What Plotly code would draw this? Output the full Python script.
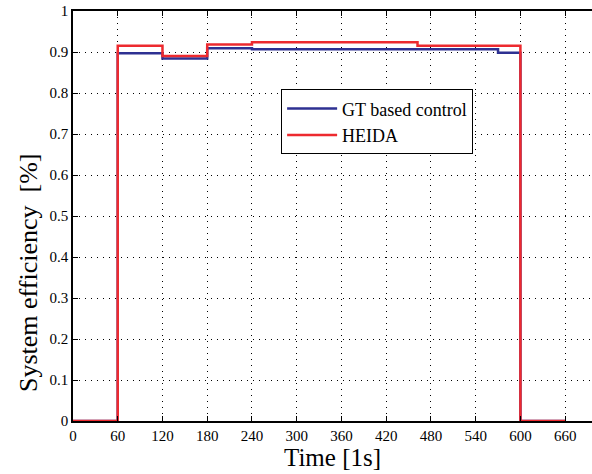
import plotly.graph_objects as go

# Data
t_gt = [0, 60, 120, 180, 240, 570, 600, 660]
eff_gt = [0, 0.897, 0.884, 0.909, 0.907, 0.898, 0, 0]
t_heida = [0, 60, 120, 180, 240, 462, 600, 660]
eff_heida = [0, 0.915, 0.890, 0.918, 0.924, 0.915, 0, 0]
x_ticks = [0, 60, 120, 180, 240, 300, 360, 420, 480, 540, 600, 660]
y_ticks = [0, 0.1, 0.2, 0.3, 0.4, 0.5, 0.6, 0.7, 0.8, 0.9, 1]

font = "Times New Roman, Liberation Serif, DejaVu Serif, serif"

fig = go.Figure()
fig.add_trace(go.Scatter(x=t_gt, y=eff_gt, mode="lines", line_shape="hv",
                         name="GT based control",
                         line=dict(color="#2E3192", width=2.5)))
fig.add_trace(go.Scatter(x=t_heida, y=eff_heida, mode="lines", line_shape="hv",
                         name="HEIDA",
                         line=dict(color="#ED2A2F", width=2.5)))

fig.update_layout(
    width=592, height=474,
    margin=dict(l=73, r=0, t=11, b=53, autoexpand=False),
    paper_bgcolor="white", plot_bgcolor="white",
    font=dict(family=font, color="black", size=14),
    legend=dict(x=0.401, y=0.809, xanchor="left", yanchor="top",
                bordercolor="black", borderwidth=1, bgcolor="white",
                font=dict(size=18, family=font), tracegroupgap=0,
                itemwidth=50),
    showlegend=True,
    annotations=[
        dict(text="Time [1s]", xref="paper", yref="paper",
             x=0.5, y=-0.09, xanchor="center", yanchor="middle",
             showarrow=False, font=dict(size=25, family=font)),
        dict(text="System efficiency\u00a0\u00a0[%]", xref="paper", yref="paper",
             x=-0.087, y=0.363, xanchor="center", yanchor="middle",
             textangle=-90, showarrow=False, font=dict(size=26, family=font)),
    ],
)
fig.update_xaxes(
    range=[0, 696], tickvals=x_ticks, ticktext=[str(v) for v in x_ticks],
    showline=True, linecolor="black", linewidth=1.5, mirror="ticks",
    ticks="inside", ticklen=5, tickcolor="black",
    showgrid=True, gridcolor="black", gridwidth=1, griddash="1px,5px",
    zeroline=False, automargin=False,
    tickfont=dict(size=15, family=font),
)
fig.update_yaxes(
    range=[0, 1], tickvals=y_ticks, ticktext=[f"{v:g}" for v in y_ticks],
    showline=True, linecolor="black", linewidth=1.5, mirror=False,
    ticks="inside", ticklen=5, tickcolor="black",
    showgrid=True, gridcolor="black", gridwidth=1, griddash="1px,5px",
    zeroline=False, automargin=False,
    tickfont=dict(size=15, family=font),
)

fig.write_html("out.html", config={"displayModeBar": False},
               post_script="document.body.style.margin='0';")
